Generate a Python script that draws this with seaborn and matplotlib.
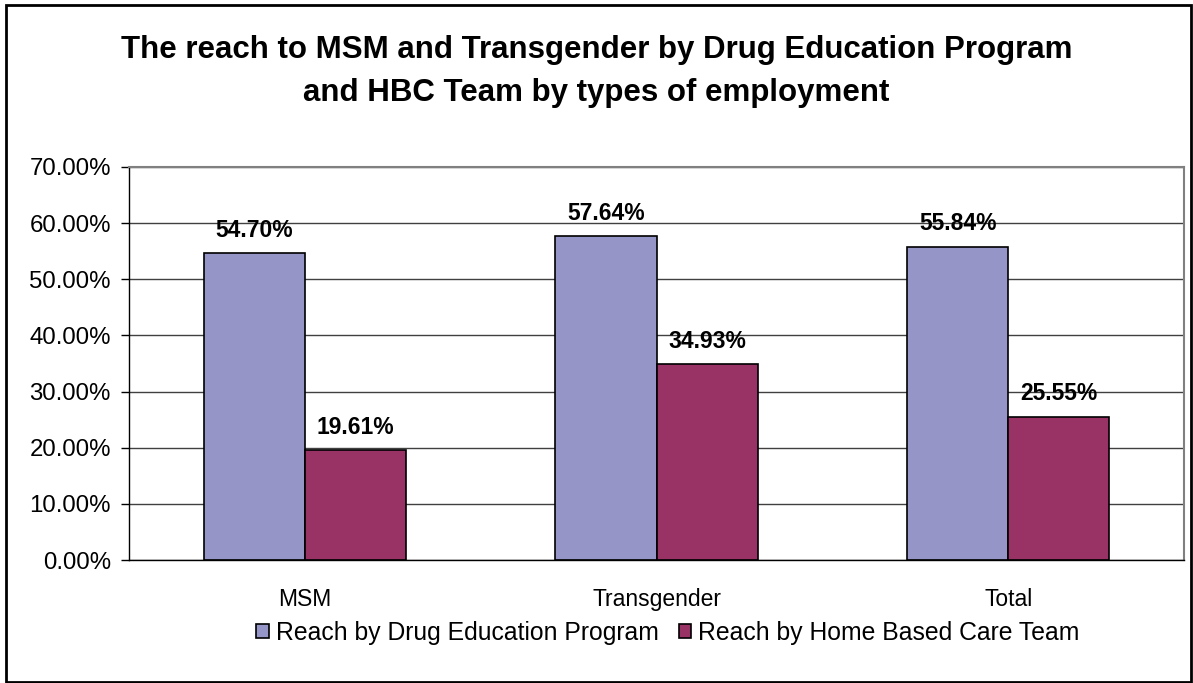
import numpy as np
import pandas as pd
import matplotlib
matplotlib.use("Agg")
import matplotlib.pyplot as plt
import seaborn as sns
from matplotlib.patches import Rectangle

categories = ["MSM", "Transgender", "Total"]
drug_edu = [54.70, 57.64, 55.84]
home_care = [19.61, 34.93, 25.55]
series_names = ["Reach by Drug Education Program", "Reach by Home Based Care Team"]
y_ticks = [0, 10, 20, 30, 40, 50, 60, 70]

df = pd.DataFrame({
    "category": categories * 2,
    "series": [series_names[0]] * 3 + [series_names[1]] * 3,
    "value": drug_edu + home_care,
})

sns.set_style("white")
plt.rcParams['font.family'] = ['Liberation Sans', 'DejaVu Sans']
plt.rcParams['text.color'] = 'black'
plt.rcParams['xtick.color'] = 'black'
plt.rcParams['ytick.color'] = 'black'

fig = plt.figure(figsize=(11.93, 6.83), dpi=100)
ax = fig.add_axes([0.1081, 0.180, 0.8844, 0.5755])

palette = {series_names[0]: "#9595C8", series_names[1]: "#993366"}
sns.barplot(data=df, x="category", y="value", hue="series", order=categories,
            hue_order=series_names, palette=palette, width=0.575,
            edgecolor="black", linewidth=1.2, saturation=1, ax=ax, legend=True)

ax.set_ylim(0, 70)
ax.set_xlim(-0.5, 2.5)
ax.set_yticks(y_ticks)
ax.set_yticklabels([f"{v:.2f}%" for v in y_ticks], fontsize=17.3)
ax.set_xticks(range(len(categories)))
ax.set_xticklabels(categories, fontsize=16.5)
ax.set_xticks([-0.5, 0.5, 1.5, 2.5], minor=True)
ax.tick_params(axis="x", which="major", length=0, pad=20)
ax.tick_params(axis="x", which="minor", length=6, width=1, color="black", direction="out")
ax.tick_params(axis="y", length=6, width=1, color="black", direction="out", pad=7, left=True)
ax.set_xlabel("")
ax.set_ylabel("")
ax.yaxis.grid(True, color="#404040", linewidth=1)
ax.set_axisbelow(True)

for s in ["left", "bottom"]:
    ax.spines[s].set_color("black")
    ax.spines[s].set_linewidth(1)
for s in ["top", "right"]:
    ax.spines[s].set_color("#808080")
    ax.spines[s].set_linewidth(1.5)

for container in ax.containers:
    ax.bar_label(container, labels=[f"{b.get_height():.2f}%" for b in container],
                 padding=8, fontsize=16.5, fontweight="bold", color="black")

handles, labels = ax.get_legend_handles_labels()
ax.get_legend().remove()
fig.legend(handles, labels, loc="center", bbox_to_anchor=(0.56, 0.073), ncol=2,
           frameon=False, fontsize=17.8, handlelength=0.5, handleheight=0.5,
           handletextpad=0.3, columnspacing=0.8)

fig.text(0.5, 0.895, "The reach to MSM and Transgender by Drug Education Program\nand HBC Team by types of employment",
         ha="center", va="center", fontsize=22.5, fontweight="bold", linespacing=1.55)

fig.patches.append(Rectangle((0.005, 0.002), 0.993, 0.99, transform=fig.transFigure,
                             fill=False, edgecolor="black", linewidth=2))

fig.savefig("out.png", dpi=100)
